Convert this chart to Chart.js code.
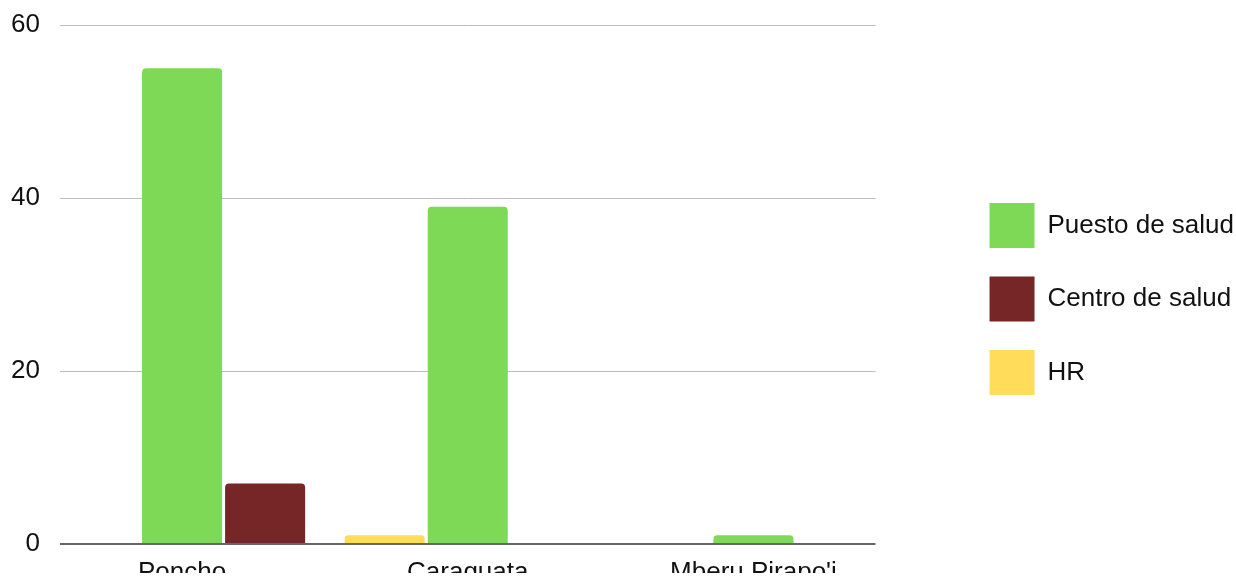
<!DOCTYPE html>
<html>
<head>
<meta charset="utf-8">
<script src="https://cdn.jsdelivr.net/npm/chart.js@4/dist/chart.umd.min.js"></script>
<style>
  html, body { margin: 0; padding: 0; background: #fff; }
  #wrap { width: 1236px; height: 584px; position: relative; }
</style>
</head>
<body>
<div id="wrap"><canvas id="chart"></canvas></div>
<script>
// categories and series
const categories = ['Poncho', 'Caraguata', "Mberu Pirapo'i"];
const puestoSalud = [55, 39, 1];
const centroSalud = [7, 0, 0];
const hr = [0, 1, 0];
const yTicks = [0, 20, 40, 60];
// legend is listed in this order, bars sit HR / Puesto / Centro inside a group
const legendOrder = ['Puesto de salud', 'Centro de salud', 'HR'];

const FONT = '"Liberation Sans", Arial, sans-serif';
const toPoints = arr => arr.map((v, i) => ({x: i, y: v}));

function ds(label, values, color) {
  return {
    label: label,
    data: toPoints(values),
    backgroundColor: color,
    borderWidth: 0,
    borderRadius: 4,
    borderSkipped: 'start',
    categoryPercentage: 0.872,
    barPercentage: 0.964
  };
}

new Chart(document.getElementById('chart'), {
  type: 'bar',
  data: {
    datasets: [
      ds('HR', hr, '#ffdc5a'),
      ds('Puesto de salud', puestoSalud, '#7ed957'),
      ds('Centro de salud', centroSalud, '#772627')
    ]
  },
  options: {
    responsive: true,
    maintainAspectRatio: false,
    animation: false,
    layout: {padding: {top: 25, bottom: 11, left: 0, right: -8}},
    plugins: {
      tooltip: {enabled: false},
      legend: {
        position: 'right',
        maxWidth: 400,
        labels: {
          boxWidth: 45,
          boxHeight: 45,
          padding: 28.5,
          color: '#111111',
          font: {family: FONT, size: 26},
          sort: (a, b) => legendOrder.indexOf(a.text) - legendOrder.indexOf(b.text)
        }
      }
    },
    scales: {
      x: {
        type: 'linear',
        offset: false,
        min: -0.4273,
        max: 2.4273,
        grid: {display: false},
        border: {display: false},
        afterFit: s => { s.height = 29; },
        ticks: {
          stepSize: 1,
          includeBounds: false,
          padding: 5,
          color: '#111111',
          font: {family: FONT, size: 26},
          maxRotation: 0,
          autoSkip: false,
          callback: v => categories[v] !== undefined ? categories[v] : ''
        }
      },
      y: {
        min: 0,
        max: 60,
        afterFit: s => { s.width = 60; s.paddingTop = 0; s.paddingBottom = 0; },
        afterBuildTicks: s => { s.ticks = yTicks.map(v => ({value: v})); },
        border: {display: false},
        grid: {
          drawTicks: false,
          color: c => c.tick.value === 0 ? '#666666' : '#bdbdbd',
          lineWidth: c => c.tick.value === 0 ? 2 : 1
        },
        ticks: {
          padding: 20,
          color: '#111111',
          font: {family: FONT, size: 26}
        }
      },
      gap: {
        type: 'linear',
        position: 'right',
        display: true,
        afterFit: s => { s.width = 85.5; },
        grid: {display: false},
        border: {display: false},
        ticks: {display: false}
      }
    }
  }
});
</script>
</body>
</html>
